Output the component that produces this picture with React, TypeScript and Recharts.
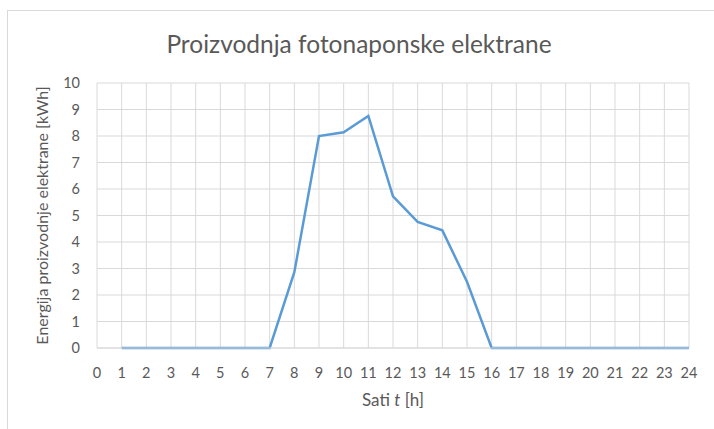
import { LineChart, Line, XAxis, YAxis, CartesianGrid, Label, Customized } from 'recharts';

const hours = [1, 2, 3, 4, 5, 6, 7, 8, 9, 10, 11, 12, 13, 14, 15, 16, 17, 18, 19, 20, 21, 22, 23, 24];
const energy = [0, 0, 0, 0, 0, 0, 0, 2.86, 8.0, 8.14, 8.76, 5.72, 4.76, 4.44, 2.5, 0, 0, 0, 0, 0, 0, 0, 0, 0];
const xTicks = [0, 1, 2, 3, 4, 5, 6, 7, 8, 9, 10, 11, 12, 13, 14, 15, 16, 17, 18, 19, 20, 21, 22, 23, 24];
const yTicks = [0, 1, 2, 3, 4, 5, 6, 7, 8, 9, 10];

const data = hours.map((h, i) => ({ h, e: energy[i] }));

const FONT = 'Lato, "Open Sans", sans-serif';
const TEXT = '#595959';
const GRID = '#d9d9d9';

export default function App() {
  return (
    <div style={{ position: 'absolute', left: 0, top: 0, width: 714, height: 429, background: '#fff', fontFamily: FONT }}>
      <div
        style={{
          position: 'absolute',
          left: 7,
          top: 10,
          width: 720,
          height: 430,
          border: '1px solid #d9d9d9',
        }}
      />
      <LineChart
        width={714}
        height={429}
        data={data}
        margin={{ top: 83, right: 25, bottom: 31, left: 0 }}
        style={{ position: 'absolute', left: 0, top: 0 }}
      >
        <Customized
          component={() => (
            <text x={359} y={53} textAnchor="middle" fontSize={24.5} fill={TEXT} fontFamily={FONT} fontWeight={400}>
              Proizvodnja fotonaponske elektrane
            </text>
          )}
        />
        <CartesianGrid stroke={GRID} strokeWidth={1} />
        <XAxis
          dataKey="h"
          type="number"
          domain={[0, 24]}
          ticks={xTicks}
          interval={0}
          height={50}
          tickSize={0}
          tickMargin={20}
          axisLine={{ stroke: GRID }}
          tick={{ fontSize: 14.5, fill: TEXT, fontFamily: FONT }}
        >
          <Label
            content={({ viewBox }: any) => (
              <text
                x={viewBox.x + viewBox.width / 2}
                y={viewBox.y + 58}
                textAnchor="middle"
                fontSize={17}
                fill={TEXT}
                fontFamily={FONT}
              >
                Sati <tspan fontStyle="italic">t</tspan> [h]
              </text>
            )}
          />
        </XAxis>
        <YAxis
          type="number"
          domain={[0, 10]}
          ticks={yTicks}
          interval={0}
          width={97}
          tickSize={0}
          tickMargin={17}
          axisLine={false}
          tick={{ fontSize: 14.5, fill: TEXT, fontFamily: FONT }}
        >
          <Label
            content={({ viewBox }: any) => (
              <text
                x={48}
                y={viewBox.y + viewBox.height / 2}
                textAnchor="middle"
                fontSize={16}
                fill={TEXT}
                fontFamily={FONT}
                transform={`rotate(-90 48 ${viewBox.y + viewBox.height / 2})`}
              >
                Energija proizvodnje elektrane [kWh]
              </text>
            )}
          />
        </YAxis>
        <Line
          type="linear"
          dataKey="e"
          stroke="#5b9bd5"
          strokeWidth={2.5}
          dot={false}
          isAnimationActive={false}
        />
      </LineChart>
    </div>
  );
}
